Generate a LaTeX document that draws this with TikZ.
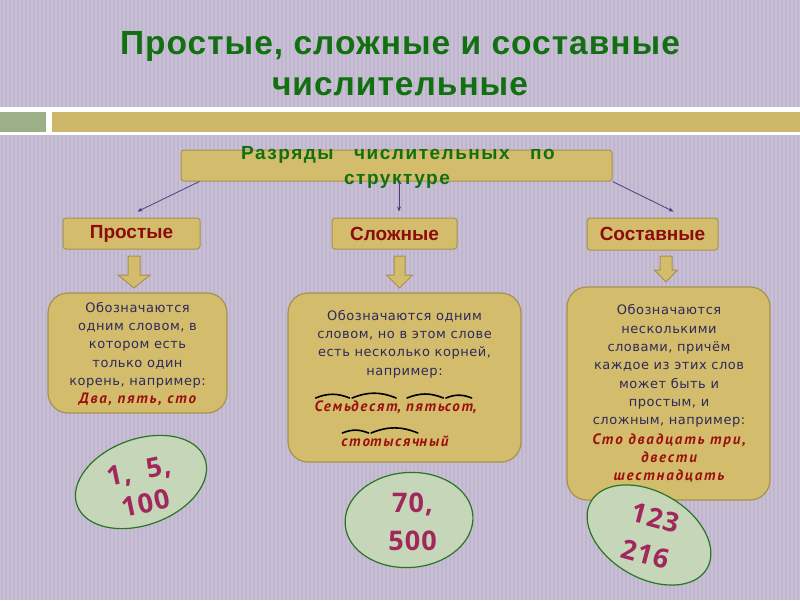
\documentclass[tikz,border=0pt]{standalone}
\usepackage{fontspec}
\setmainfont{Liberation Sans}
\newfontfamily\titf{Liberation Sans}[LetterSpace=3]
\newfontfamily\bodyf{DejaVu Sans}[LetterSpace=4]
\newfontfamily\redf{PT Sans}[LetterSpace=12]
\newfontfamily\lsb{Liberation Sans}[LetterSpace=8]
\newfontfamily\numf{Open Sans}[LetterSpace=4]
\usetikzlibrary{shapes.geometric,arrows.meta}
\definecolor{bgc}{RGB}{202,192,214}
\definecolor{stripec}{RGB}{192,181,206}
\definecolor{bandgreen}{RGB}{156,175,134}
\definecolor{bandolive}{RGB}{205,184,106}
\definecolor{boxfill}{RGB}{211,188,108}
\definecolor{boxline}{RGB}{166,146,78}
\definecolor{titlegreen}{RGB}{19,112,18}
\definecolor{labelred}{RGB}{139,12,12}
\definecolor{navy}{RGB}{45,42,92}
\definecolor{itred}{RGB}{155,15,15}
\definecolor{ovalfill}{RGB}{198,214,184}
\definecolor{ovalline}{RGB}{40,118,36}
\definecolor{numc}{RGB}{160,40,92}
\definecolor{connc}{RGB}{74,63,126}
\newcommand\barrow[6]{%
  \draw[blockarrow] (#1-#5,#2) -- (#1+#5,#2) -- (#1+#5,#4) -- (#1+#6,#4)
    -- (#1,#3) -- (#1-#6,#4) -- (#1-#5,#4) -- cycle;}
\tikzset{
  titletext/.style={text=titlegreen, font=\titf\fontsize{33.5}{38}\selectfont\bfseries, inner sep=0pt, anchor=base},
  toptext/.style={text=titlegreen, font=\lsb\fontsize{19}{22}\selectfont\bfseries, inner sep=0pt, anchor=base},
  topbox/.style={draw=boxline, fill=boxfill, line width=1pt, rounded corners=3pt, inner sep=0pt},
  catbox/.style={draw=boxline, fill=boxfill, line width=1pt, rounded corners=3pt, inner sep=0pt,
    text=labelred, font=\fontsize{19}{22}\selectfont\bfseries},
  bigbox/.style={draw=boxline, fill=boxfill, line width=1.2pt, rounded corners=20pt, inner sep=0pt},
  bodytext/.style={text=navy, align=center, inner sep=0pt, font=\bodyf\fontsize{13}{18.3}\selectfont},
  redline/.style={text=itred, font=\redf\fontsize{15}{18.3}\selectfont\bfseries\itshape},
  redpiece/.style={redline, inner sep=0pt, outer sep=0pt, text height=10pt, text depth=3pt},
  rootarc/.style={line width=1.6pt, black, line cap=round},
  conn/.style={draw=connc, line width=0.8pt, -{Stealth[length=5pt,width=4pt]}},
  blockarrow/.style={draw=boxline, fill=boxfill, line width=1pt, line join=miter},
  oval/.style={ellipse, draw=ovalline, fill=ovalfill, line width=1.2pt, inner sep=0pt},
  num/.style={text=numc, align=center, inner sep=0pt}
}
\begin{document}
\begin{tikzpicture}[x=1pt,y=-1pt]
\useasboundingbox (0,0) rectangle (800,600);
% background
\fill[bgc] (0,0) rectangle (800,600);
\foreach \i in {2,6,...,800} \draw[stripec, line width=1.2pt] (\i,0) -- (\i,600);
% bands
\fill[white] (0,107) rectangle (800,135);
\fill[bandgreen] (0,112) rectangle (46,132);
\fill[bandolive] (52,112) rectangle (800,132);
% title
\node[titletext] (title1) at (400,54) {Простые, сложные и составные};
\node[titletext] (title2) at (400,95) {числительные};
% top box
\node[topbox, minimum width=431pt, minimum height=31pt] (top) at (396.5,165.5) {};
\node[toptext] (topt1) at (398,159) {Разряды\ \ \ числительных\ \ \ по};
\node[toptext] (topt2) at (397,184) {структуре};
% categories
\node[catbox, minimum width=137pt, minimum height=31pt] (p1) at (131.5,233.5) {Простые};
\node[catbox, minimum width=125pt, minimum height=31pt] (s1) at (394.5,233.5) {Сложные};
\node[catbox, minimum width=131pt, minimum height=32pt] (c1) at (652.5,234) {Составные};
% connectors
\draw[conn] ([xshift=19pt]top.south west) -- ([xshift=6pt,yshift=6pt]p1.north);
\draw[conn] ([xshift=2.5pt]top.south) -- ([xshift=4.5pt,yshift=6pt]s1.north);
\draw[conn] (top.south east) -- ([xshift=21pt,yshift=6pt]c1.north);
% block arrows
\barrow{134}{256}{288}{275}{6}{16}
\barrow{399.5}{256}{288}{275}{5.5}{13}
\barrow{666}{256}{282}{270}{6}{11.5}
% big boxes
\node[bigbox, minimum width=179pt, minimum height=120pt] (b1) at (137.5,353) {};
\node[bigbox, minimum width=233pt, minimum height=169pt] (b2) at (404.5,377.5) {};
\node[bigbox, minimum width=203pt, minimum height=213pt] (b3) at (668.5,393.5) {};
% left box text
\node[bodytext] (t1) at (137.5,345) {Обозначаются\\одним словом, в\\котором есть\\только один\\корень, например:};
\node[redline, inner sep=0pt] (t1r) at (137.5,399) {Два, пять, сто};
% middle box text
\node[bodytext] (t2) at (404.5,344) {Обозначаются одним\\словом, но в этом слове\\есть несколько корней,\\например:};
\node[redpiece, anchor=base east] (r3) at (406,411) {,\kern5pt};
\node[redpiece, anchor=base east] (r2) at (r3.base west) {десят};
\node[redpiece, anchor=base east] (r1) at (r2.base west) {Семь};
\node[redpiece, anchor=base west] (r4) at (r3.base east) {пять};
\node[redpiece, anchor=base west] (r5) at (r4.base east) {сот};
\node[redpiece, anchor=base west] (r6) at (r5.base east) {,};
\node[redpiece, anchor=base east] (q1) at (370,446) {сто};
\node[redpiece, anchor=base west] (q2) at (q1.base east) {тысяч};
\node[redpiece, anchor=base west] (q3) at (q2.base east) {ный};
\foreach \n in {r1,r2,r4,r5,q1,q2}
  \draw[rootarc] ([xshift=1pt,yshift=3pt]\n.north west) to[bend left=22] ([xshift=-1.5pt,yshift=3pt]\n.north east);
% right box text
\node[bodytext] (t3) at (669,366) {Обозначаются\\несколькими\\словами, причём\\каждое из этих слов\\может быть и\\простым, и\\сложным, например:};
\node[redline, align=center, inner sep=0pt] (t3r) at (669,458) {Сто двадцать три,\\двести\\шестнадцать};
% ovals
\node[oval, minimum width=136pt, minimum height=86pt, rotate=20] (e1) at (141,482) {};
\node[num, rotate=12, font=\numf\fontsize{27}{33}\selectfont\bfseries] (e1t) at (142,487) {1,\ \ 5,\\100};
\node[oval, minimum width=128pt, minimum height=95pt, rotate=4] (e2) at (409,520) {};
\node[num, font=\numf\fontsize{27}{38}\selectfont\bfseries] (e2t) at (412.5,522) {70,\\500};
\node[oval, minimum width=134pt, minimum height=86pt, rotate=-30] (e3) at (649,535) {};
\node[num, rotate=-15, font=\numf\fontsize{27}{37.5}\selectfont\bfseries] (e3t) at (650.5,536) {123\\216};
\end{tikzpicture}
\end{document}
